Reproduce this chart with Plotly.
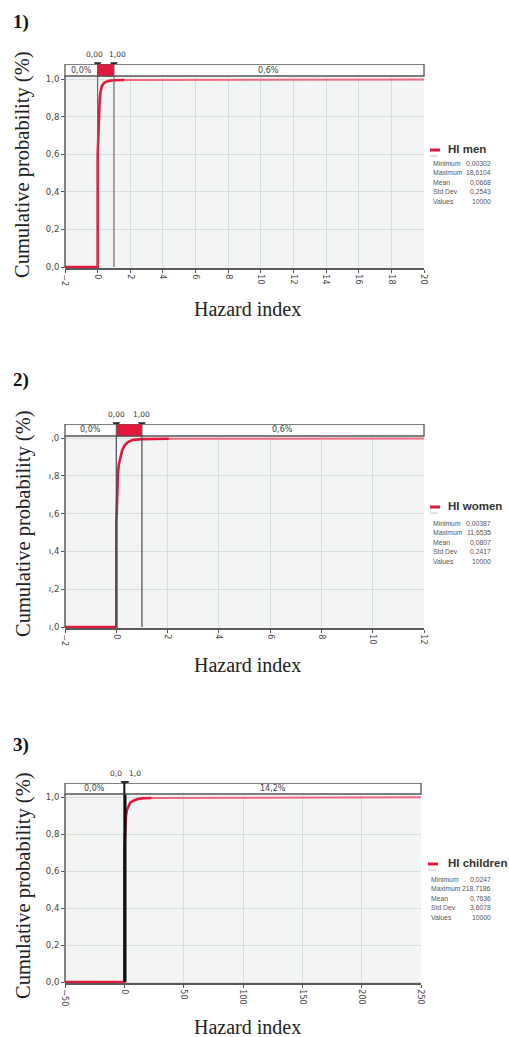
import plotly.graph_objects as go

# ---------------- data ----------------
panel_tags = ["1)", "2)", "3)"]
series_names = ["HI men", "HI women", "HI children"]

# cumulative distribution curves (Hazard index, cumulative probability)
x_men = [-2, 0.003, 0.003, 0.02, 0.04, 0.06, 0.09, 0.13, 0.18, 0.25, 0.35, 0.5, 0.7, 1.0, 1.65]
p_men = [0, 0, 0.60, 0.64, 0.72, 0.80, 0.86, 0.90, 0.93, 0.96, 0.975, 0.985, 0.99, 0.993, 0.995]
tail_x_men = [1.65, 20]
tail_p_men = [0.995, 0.998]

x_women = [-2, 0.004, 0.004, 0.02, 0.04, 0.065, 0.1, 0.16, 0.23, 0.32, 0.45, 0.65, 1.0, 2.05]
p_women = [0, 0, 0.55, 0.68, 0.76, 0.81, 0.86, 0.90, 0.935, 0.96, 0.978, 0.99, 0.994, 0.996]
tail_x_women = [2.05, 12]
tail_p_women = [0.996, 0.998]

x_child = [-50, 0.025, 0.025, 0.3, 0.56, 0.9, 1.4, 2.2, 3.4, 5, 7.6, 11.8, 16, 23]
p_child = [0, 0, 0.72, 0.76, 0.80, 0.86, 0.90, 0.93, 0.95, 0.97, 0.98, 0.99, 0.993, 0.995]
tail_x_child = [23, 250]
tail_p_child = [0.995, 0.998]

# x axis ranges and ticks
x_ranges = [[-2, 20], [-2, 12], [-50, 250]]
x_dticks = [2, 2, 50]

# y tick labels
y_tickvals = [0, 0.2, 0.4, 0.6, 0.8, 1.0]
y_ticktext_full = ["0,0", "0,2", "0,4", "0,6", "0,8", "1,0"]
y_ticktext_cut = ["ı,0", "ı,2", "ı,4", "ı,6", "ı,8", ",0"]

# delimiter markers
marker_values = [0.0, 1.0]
marker_labels_men = ["0,00", "1,00"]
marker_labels_women = ["0,00", "1,00"]
marker_labels_child = ["0,0", "1,0"]

# band percentages (left of first marker, right of second marker)
band_left = ["0,0%", "0,0%", "0,0%"]
band_right = ["0,6%", "0,6%", "14,2%"]

# summary statistics
stat_names = ["Minimum", "Maximum", "Mean", "Std Dev", "Values"]
stats_men = ["0,00302", "18,6104", "0,0668", "0,2543", "10000"]
stats_women = ["0,00387", "11,6535", "0,0807", "0,2417", "10000"]
stats_child = ["0,0247", "218,7186", "0,7636", "3,6078", "10000"]

axis_title_x = "Hazard index"
axis_title_y = "Cumulative probability (%)"

# ---------------- layout constants (pixels of the 509x1037 page) ----------------
W, H = 509, 1037
RED = "#E2183C"
TAIL = "#EE6A80"
GRID = "#DADDDF"
AXC = "#5A5A5A"
SANS = "Liberation Sans"

panels = [
    dict(curve=(x_men, p_men), tail=(tail_x_men, tail_p_men), mlabels=marker_labels_men,
         stats=stats_men, yt=y_ticktext_full, xpx=(65, 424), band_top=64, band_bot=76,
         y1=79, y0=267, bottom=268, tag_y=22, ytitle_c=165, xtitle_y=309,
         leg_y=149, leg_dash_x=430, stat_y0=163, mshift=[-3, 4], mline="#6A6A6A", mw=1.2,
         fillmid=True),
    dict(curve=(x_women, p_women), tail=(tail_x_women, tail_p_women), mlabels=marker_labels_women,
         stats=stats_women, yt=y_ticktext_cut, xpx=(65, 424), band_top=424, band_bot=436,
         y1=438, y0=627, bottom=628, tag_y=380, ytitle_c=524, xtitle_y=665,
         leg_y=506, leg_dash_x=430, stat_y0=523, mshift=[0, 0], mline="#4A4A4A", mw=1.2,
         fillmid=True),
    dict(curve=(x_child, p_child), tail=(tail_x_child, tail_p_child), mlabels=marker_labels_child,
         stats=stats_child, yt=y_ticktext_full, xpx=(65, 421), band_top=783, band_bot=794,
         y1=797, y0=982, bottom=983, tag_y=745, ytitle_c=886, xtitle_y=1027,
         leg_y=863, leg_dash_x=428, stat_y0=879, mshift=[-8, 9], mline="#111111", mw=2,
         fillmid=False),
]

fig = go.Figure()
shapes = []
annotations = []

def px_x(p):
    return p / W

def px_y(p):
    return 1 - p / H

for i, P in enumerate(panels):
    k = "" if i == 0 else str(i + 1)
    xa, ya = "x" + k, "y" + k
    scale = P["y0"] - P["y1"]
    y_lo = -(P["bottom"] - P["y0"]) / scale
    y_hi = 1 + (P["y1"] - P["band_top"]) / scale
    band_lo = 1 + (P["y1"] - P["band_bot"]) / scale
    xr = x_ranges[i]

    fig.layout["xaxis" + k] = dict(
        domain=[px_x(P["xpx"][0]), px_x(P["xpx"][1])], anchor=ya, range=xr, automargin=False,
        dtick=x_dticks[i], tick0=0, tickangle=90, showgrid=True, gridcolor=GRID, gridwidth=1,
        zeroline=False, showline=True, linecolor=AXC, linewidth=1.5, ticks="outside",
        ticklen=3, tickcolor=AXC, tickfont=dict(family="DejaVu Sans", size=8, color="#444"),
        fixedrange=True)
    fig.layout["yaxis" + k] = dict(
        domain=[px_y(P["bottom"]), px_y(P["band_top"])], anchor=xa, range=[y_lo, y_hi],
        automargin=False,
        tickvals=y_tickvals, ticktext=P["yt"], showgrid=True, gridcolor=GRID, gridwidth=1,
        zeroline=False, showline=False, ticks="outside", ticklen=3, tickcolor=AXC,
        tickfont=dict(family="DejaVu Sans", size=8.5, color="#444"), fixedrange=True)

    # left axis line (stops at band)
    shapes.append(dict(type="line", xref=xa + " domain", yref=ya, x0=0, x1=0, y0=y_lo, y1=band_lo,
                       line=dict(color=AXC, width=1.5), layer="above"))

    # marker vertical lines
    for mv in marker_values:
        shapes.append(dict(type="line", xref=xa, yref=ya, x0=mv, x1=mv, y0=0, y1=y_hi,
                           line=dict(color=P["mline"], width=P["mw"]), layer="above"))

    # band
    shapes.append(dict(type="rect", xref=xa + " domain", yref=ya, x0=0, x1=1, y0=band_lo, y1=y_hi,
                       fillcolor="white", line=dict(color="#555", width=1.3), layer="above"))
    if P["fillmid"]:
        shapes.append(dict(type="rect", xref=xa, yref=ya, x0=marker_values[0], x1=marker_values[1],
                           y0=band_lo, y1=y_hi, fillcolor=RED, line=dict(color="#555", width=1),
                           layer="above"))
    else:
        shapes.append(dict(type="line", xref=xa, yref=ya, x0=marker_values[0], x1=marker_values[0],
                           y0=band_lo, y1=y_hi, line=dict(color=P["mline"], width=P["mw"]),
                           layer="above"))

    band_mid = (band_lo + y_hi) / 2
    annotations.append(dict(xref=xa, yref=ya, x=(xr[0] + marker_values[0]) / 2, y=band_mid,
                            text=band_left[i], showarrow=False,
                            font=dict(family="DejaVu Sans", size=8, color="#444")))
    annotations.append(dict(xref=xa, yref=ya, x=(marker_values[1] + xr[1]) / 2, y=band_mid,
                            text=band_right[i], showarrow=False,
                            font=dict(family="DejaVu Sans", size=8, color="#444")))

    # marker labels above the band
    for j, mv in enumerate(marker_values):
        annotations.append(dict(xref=xa, yref=ya, x=mv, y=y_hi, yanchor="bottom", yshift=3,
                                xshift=P["mshift"][j], text=P["mlabels"][j], showarrow=False,
                                font=dict(family="DejaVu Sans", size=7.5, color="#333")))

    # curves
    cx, cp = P["curve"]
    tx, tp = P["tail"]
    fig.add_trace(go.Scatter(x=tx, y=tp, mode="lines", line=dict(color=TAIL, width=2),
                             xaxis=xa, yaxis=ya, showlegend=False, hoverinfo="skip"))
    fig.add_trace(go.Scatter(x=cx, y=cp, mode="lines", line=dict(color=RED, width=2.6),
                             xaxis=xa, yaxis=ya, showlegend=False, name=series_names[i]))
    # triangles on top of the band
    fig.add_trace(go.Scatter(x=marker_values, y=[y_hi, y_hi], mode="markers",
                             marker=dict(symbol="triangle-down", size=7, color="#2A2A2A"),
                             xaxis=xa, yaxis=ya, showlegend=False, cliponaxis=False,
                             hoverinfo="skip"))

    # panel tag
    annotations.append(dict(xref="paper", yref="paper", x=px_x(11), y=px_y(P["tag_y"]),
                            xanchor="left", yanchor="middle", text="<b>" + panel_tags[i] + "</b>",
                            showarrow=False,
                            font=dict(family="Liberation Serif", size=19, color="#111")))
    # axis titles
    annotations.append(dict(xref="paper", yref="paper", x=px_x(247), y=px_y(P["xtitle_y"]),
                            xanchor="center", yanchor="middle", text=axis_title_x, showarrow=False,
                            font=dict(family="Liberation Serif", size=20, color="#222")))
    annotations.append(dict(xref="paper", yref="paper", x=px_x(23), y=px_y(P["ytitle_c"]),
                            xanchor="center", yanchor="middle", text=axis_title_y, showarrow=False,
                            textangle=-90,
                            font=dict(family="Liberation Serif", size=20.5, color="#222")))

    # legend block
    lx = P["leg_dash_x"]
    shapes.append(dict(type="line", xref="paper", yref="paper", x0=px_x(lx), x1=px_x(lx + 10),
                       y0=px_y(P["leg_y"] + 1), y1=px_y(P["leg_y"] + 1),
                       line=dict(color=RED, width=3)))
    shapes.append(dict(type="line", xref="paper", yref="paper", x0=px_x(lx), x1=px_x(lx + 8),
                       y0=px_y(P["leg_y"] + 7), y1=px_y(P["leg_y"] + 7),
                       line=dict(color="#C8C8C8", width=1)))
    annotations.append(dict(xref="paper", yref="paper", x=px_x(446), y=px_y(P["leg_y"]),
                            xanchor="left", yanchor="middle", text="<b>" + series_names[i] + "</b>",
                            showarrow=False,
                            font=dict(family=SANS, size=11.5, color="#333")))
    for r, (nm, val) in enumerate(zip(stat_names, P["stats"])):
        yy = px_y(P["stat_y0"] + r * 9.5)
        annotations.append(dict(xref="paper", yref="paper", x=px_x(lx + 1), y=yy,
                                xanchor="left", yanchor="middle", text=nm, showarrow=False,
                                font=dict(family=SANS, size=6.8, color="#555")))
        annotations.append(dict(xref="paper", yref="paper", x=px_x(493), y=yy,
                                xanchor="right", yanchor="middle", text=val, showarrow=False,
                                font=dict(family=SANS, size=6.8, color="#555")))

fig.update_layout(
    width=W, height=H, margin=dict(l=0, r=0, t=0, b=0),
    paper_bgcolor="white", plot_bgcolor="#F3F5F5",
    shapes=shapes, annotations=annotations, showlegend=False,
)

# remove the page's default body margin so the 509x1037 figure fills the window exactly
fig.write_html("out.html", config={"displayModeBar": False},
               post_script="document.body.style.margin='0';document.body.style.overflow='hidden';")
